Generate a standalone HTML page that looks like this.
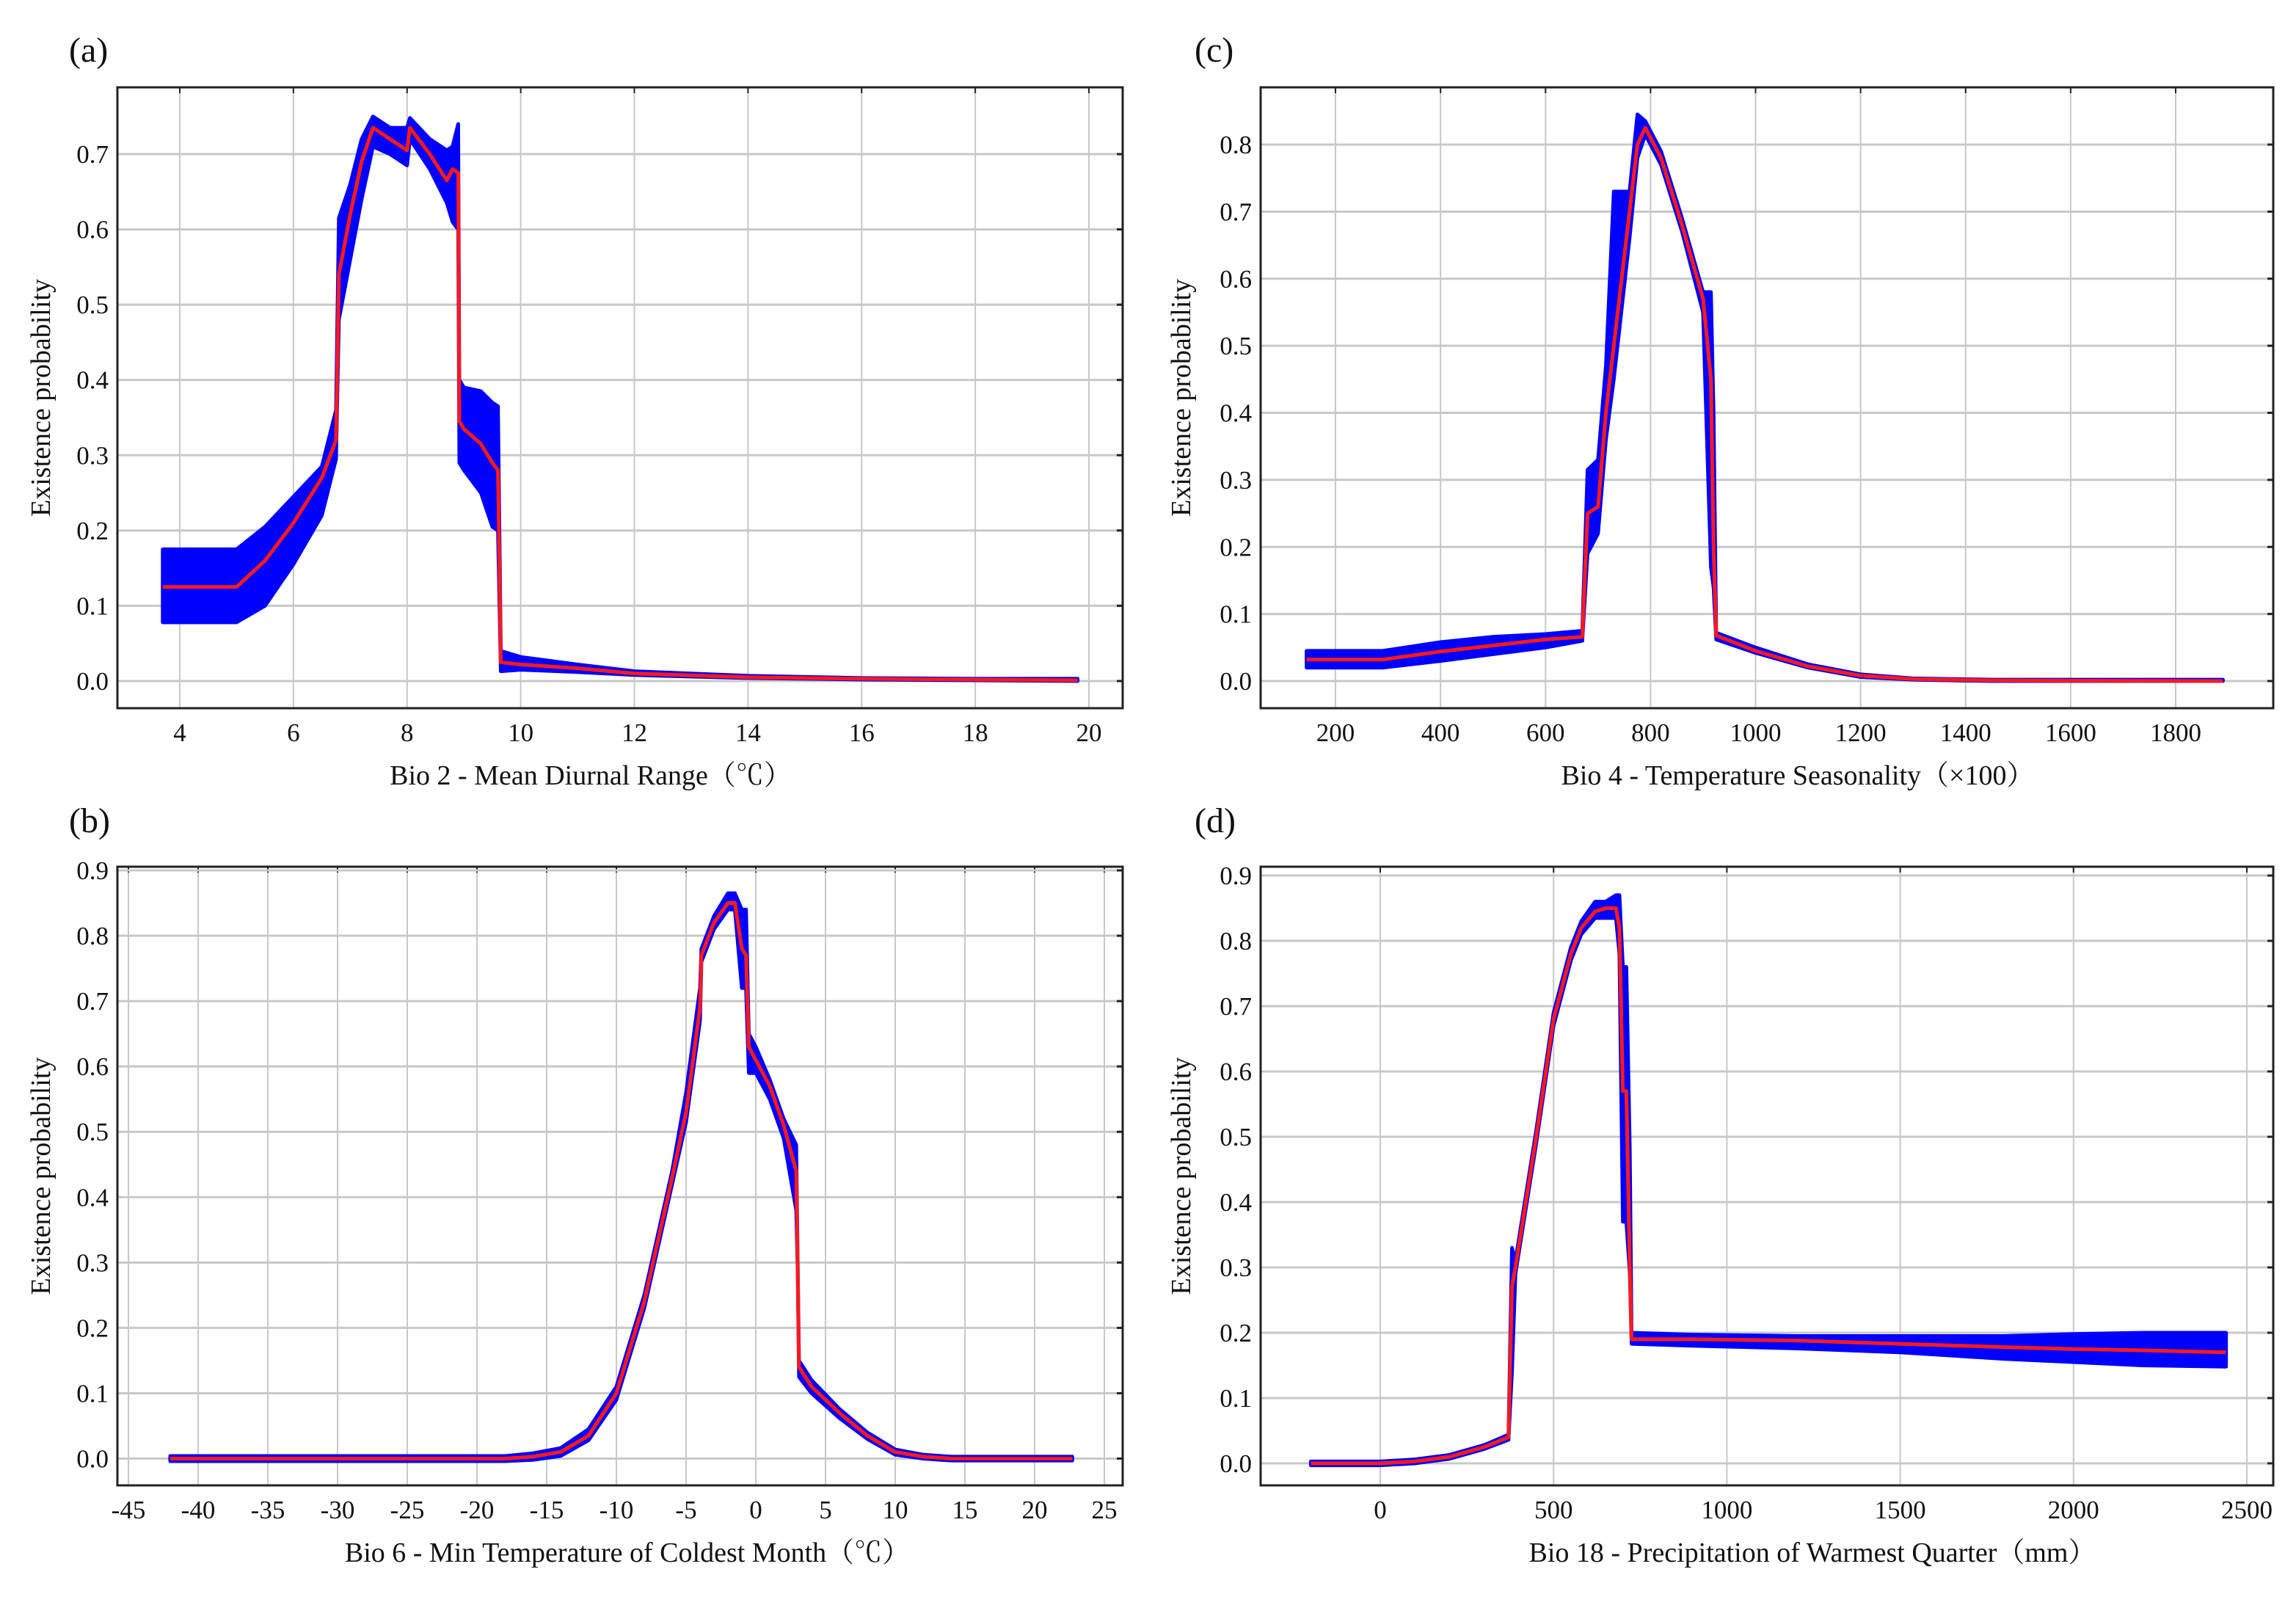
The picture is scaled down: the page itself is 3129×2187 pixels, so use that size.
<!DOCTYPE html>
<html><head><meta charset="utf-8"><style>
html,body{margin:0;padding:0;background:#fff;}
svg{display:block;font-family:"Liberation Serif","Noto Serif CJK SC",serif;}
</style></head><body>
<svg id="fig" width="3129" height="2187" viewBox="0 0 3129 2187" xmlns="http://www.w3.org/2000/svg"></svg>
<script>
// ---- Panel (a) Bio 2
const aX=[3.7,5.0,5.5,6.0,6.5,6.75,6.8,7.0,7.2,7.4,7.7,8.0,8.05,8.4,8.7,8.8,8.9,8.92,9.0,9.3,9.5,9.6,9.65,10,11,12,14,16,18,19.8];
const aMean=[.125,.125,.16,.21,.27,.32,.54,.62,.69,.735,.72,.705,.735,.70,.665,.68,.675,.345,.335,.315,.29,.28,.025,.022,.017,.010,.005,.003,.002,.001];
const aLo=[.078,.078,.10,.155,.22,.295,.48,.56,.64,.71,.70,.685,.72,.68,.635,.61,.60,.29,.28,.25,.205,.20,.013,.015,.012,.008,.004,.002,.001,0];
const aHi=[.175,.175,.205,.245,.285,.36,.615,.66,.72,.75,.735,.735,.748,.72,.705,.71,.74,.40,.39,.385,.37,.365,.04,.032,.022,.013,.007,.004,.003,.003];
const aXTicks=[4,6,8,10,12,14,16,18,20];
const aYTicks=[0,.1,.2,.3,.4,.5,.6,.7];
// ---- Panel (c) Bio 4
const cX=[145,290,400,500,600,670,680,700,715,730,760,775,790,820,860,900,915,920,925,1000,1100,1200,1300,1450,1890];
const cMean=[.032,.032,.044,.053,.062,.066,.25,.26,.40,.5,.7,.80,.825,.78,.68,.57,.45,.2,.068,.045,.022,.008,.003,.001,0];
const cLo=[.020,.020,.030,.040,.05,.06,.19,.22,.36,.45,.66,.78,.815,.77,.67,.55,.17,.14,.062,.042,.02,.006,.002,0,0];
const cHi=[.045,.045,.058,.066,.07,.075,.315,.33,.47,.73,.73,.845,.835,.79,.69,.58,.58,.40,.072,.05,.025,.01,.004,.002,.002];
const cXTicks=[200,400,600,800,1000,1200,1400,1600,1800];
const cYTicks=[0,.1,.2,.3,.4,.5,.6,.7,.8];
// ---- Panel (b) Bio 6
const bX=[-42,-18,-16,-14,-12,-10,-8,-6,-5,-4,-3.9,-3,-2,-1.5,-1,-0.7,-0.5,0,1,2,2.9,3,3.1,4,6,8,10,12,14,22.7];
const bMean=[0,0,.003,.01,.035,.1,.24,.43,.53,.69,.77,.82,.85,.85,.78,.77,.63,.61,.57,.51,.44,.3,.14,.11,.07,.035,.01,.003,0,0];
const bLo=[-.004,-.004,-.002,.004,.028,.09,.23,.42,.515,.67,.76,.81,.84,.84,.72,.72,.59,.59,.55,.49,.38,.29,.125,.10,.062,.03,.006,0,-.003,-.003];
const bHi=[.004,.004,.008,.016,.045,.11,.25,.44,.56,.72,.78,.83,.865,.865,.84,.84,.65,.63,.58,.52,.48,.31,.15,.12,.076,.04,.014,.006,.003,.003];
const bXTicks=[-45,-40,-35,-30,-25,-20,-15,-10,-5,0,5,10,15,20,25];
const bYTicks=[0,.1,.2,.3,.4,.5,.6,.7,.8,.9];
// ---- Panel (d) Bio 18
const dX=[-200,0,100,200,300,370,380,390,450,500,550,580,620,650,680,690,700,710,720,725,900,1200,1500,1800,2000,2200,2440];
const dMean=[0,0,.003,.01,.025,.04,.27,.30,.50,.68,.78,.82,.845,.85,.85,.82,.57,.57,.30,.19,.19,.188,.183,.178,.175,.173,.17];
const dLo=[-.003,-.003,0,.007,.022,.036,.14,.29,.49,.67,.77,.81,.835,.835,.835,.78,.37,.37,.29,.183,.18,.176,.17,.16,.155,.15,.148];
const dHi=[.003,.003,.006,.013,.028,.044,.33,.31,.51,.69,.79,.83,.86,.86,.87,.87,.76,.76,.48,.2,.197,.195,.195,.195,.198,.2,.2];
const dXTicks=[0,500,1000,1500,2000,2500];
const dYTicks=[0,.1,.2,.3,.4,.5,.6,.7,.8,.9];

const NS="http://www.w3.org/2000/svg";
const svg=document.getElementById('fig');
function mk(tag,attrs,parent){const e=document.createElementNS(NS,tag);for(const k in attrs)e.setAttribute(k,attrs[k]);(parent||svg).appendChild(e);return e;}

function panel(cfg){
  const g=mk('g',{});
  
  
  const sx=v=>cfg.px0+(v-cfg.vx0)*(cfg.px1-cfg.px0)/(cfg.vx1-cfg.vx0);
  const sy=v=>cfg.py0+(v-cfg.vy0)*(cfg.py1-cfg.py0)/(cfg.vy1-cfg.vy0);
  const B=cfg.box;
  cfg.xt.forEach(t=>{const l=mk('line',{x1:sx(t),x2:sx(t),y1:B[1],y2:B[3],stroke:'#c8c8c8','stroke-width':2},g);
    
    const tk=mk('line',{x1:sx(t),x2:sx(t),y1:B[1],y2:B[1]+8,stroke:'#222','stroke-width':2},g);
    
    const tx=mk('text',{x:sx(t),y:B[3]+45,'font-size':35,'text-anchor':'middle',fill:'#111'},g);
    
    tx.textContent=String(t);});
  cfg.yt.forEach(t=>{const l=mk('line',{x1:B[0],x2:B[2],y1:sy(t),y2:sy(t),stroke:'#c8c8c8','stroke-width':3},g);
    
    const tk=mk('line',{x1:B[2]-8,x2:B[2],y1:sy(t),y2:sy(t),stroke:'#222','stroke-width':3},g);
    
    const tx=mk('text',{x:B[0]-12,y:sy(t)+12,'font-size':35,'text-anchor':'end',fill:'#111'},g);
    
    tx.textContent=t.toFixed(1);});
  let pts=[];
  cfg.x.forEach((v,i)=>pts.push(sx(v)+','+sy(cfg.hi[i])));
  for(let i=cfg.x.length-1;i>=0;i--)pts.push(sx(cfg.x[i])+','+sy(cfg.lo[i]));
  const band=mk('polygon',{points:pts.join(' '),fill:'#0000ff',stroke:'#0000ff','stroke-width':5,'stroke-linejoin':'round'},g);
  
  const line=mk('polyline',{points:cfg.x.map((v,i)=>sx(v)+','+sy(cfg.mean[i])).join(' '),fill:'none',stroke:'#ff1a1a','stroke-width':5,'stroke-linejoin':'round'},g);
  
  const box=mk('rect',{x:B[0],y:B[1],width:B[2]-B[0],height:B[3]-B[1],fill:'none',stroke:'#222','stroke-width':3},g);
  
  const xt=mk('text',{x:cfg.xtx,y:B[3]+104,'font-size':38,'text-anchor':'middle',fill:'#111'},g);
  
  xt.textContent=cfg.xtitle;
  const cy=(B[1]+B[3])/2;
  const yt=mk('text',{x:0,y:0,'font-size':38,'text-anchor':'middle',fill:'#111',transform:`translate(${cfg.ytx},${cy}) rotate(-90)`},g);
  
  yt.textContent='Existence probability';
  const pl=mk('text',{x:cfg.lx,y:cfg.ly,'font-size':48,fill:'#111'},g);
  
  pl.textContent=cfg.label;
}

panel({name:'panel-a-bio2',box:[160,119,1530,965],vx0:4,vx1:20,px0:245,px1:1484,vy0:0,vy1:.7,py0:928,py1:210,
  x:aX,mean:aMean,lo:aLo,hi:aHi,xt:aXTicks,yt:aYTicks,xtitle:'Bio 2 - Mean Diurnal Range（℃）',xtx:805,ytx:68,lx:94,ly:84,label:'(a)'});
panel({name:'panel-c-bio4',box:[1718,119,3098,965],vx0:200,vx1:1800,px0:1820,px1:2965,vy0:0,vy1:.8,py0:928,py1:197,
  x:cX,mean:cMean,lo:cLo,hi:cHi,xt:cXTicks,yt:cYTicks,xtitle:'Bio 4 -  Temperature Seasonality（×100）',xtx:2450,ytx:1622,lx:1628,ly:84,label:'(c)'});
panel({name:'panel-b-bio6',box:[160,1181,1530,2024],vx0:-45,vx1:25,px0:175,px1:1505,vy0:0,vy1:.9,py0:1987.5,py1:1186,
  x:bX,mean:bMean,lo:bLo,hi:bHi,xt:bXTicks,yt:bYTicks,xtitle:'Bio 6 - Min Temperature of Coldest Month（℃）',xtx:855,ytx:68,lx:94,ly:1134,label:'(b)'});
panel({name:'panel-d-bio18',box:[1718,1181,3098,2024],vx0:0,vx1:2500,px0:1881,px1:3062,vy0:0,vy1:.9,py0:1994,py1:1193,
  x:dX,mean:dMean,lo:dLo,hi:dHi,xt:dXTicks,yt:dYTicks,xtitle:'Bio 18 -  Precipitation of Warmest Quarter（mm）',xtx:2470,ytx:1622,lx:1628,ly:1134,label:'(d)'});
</script>
</body></html>
